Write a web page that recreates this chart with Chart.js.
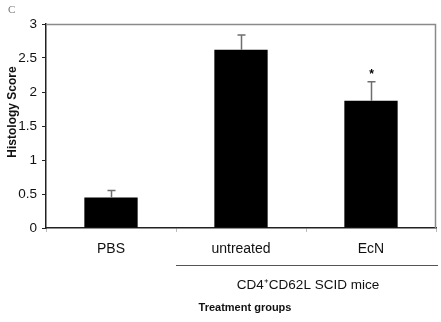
<!DOCTYPE html>
<html>
<head>
<meta charset="utf-8">
<script src="https://cdn.jsdelivr.net/npm/chart.js@4"></script>
<style>
  html, body { margin: 0; padding: 0; background: #fff; }
  #wrap { width: 441px; height: 322px; position: relative; }
</style>
</head>
<body>
<div id="wrap"><canvas id="barChart" width="441" height="322"></canvas></div>
<script>
var groups = ['PBS', 'untreated', 'EcN'];
var scores = [0.45, 2.62, 1.87];
var errors = [0.10, 0.22, 0.28];
var significant = [false, false, true];
var yTicks = [0, 0.5, 1, 1.5, 2, 2.5, 3];

// error bars, asterisk, frame and the group labels under the axis
var extras = {
    id: 'extras',
    beforeDatasetsDraw: function (chart) {
        var ctx = chart.ctx;
        var a = chart.chartArea;
        ctx.save();
        ctx.strokeStyle = '#8a8a8a';
        ctx.lineWidth = 1.5;
        ctx.beginPath();
        ctx.moveTo(a.left, a.top + 0.5);
        ctx.lineTo(a.right - 0.5, a.top + 0.5);
        ctx.lineTo(a.right - 0.5, a.bottom);
        ctx.stroke();
        ctx.restore();
    },
    afterDatasetsDraw: function (chart) {
        var ctx = chart.ctx;
        var x = chart.scales.x, y = chart.scales.y;
        ctx.save();
        ctx.strokeStyle = '#6e6e6e';
        ctx.lineWidth = 1.5;
        for (var i = 0; i < groups.length; i++) {
            var cx = Math.round(x.getPixelForValue(i)) + 0.5;
            var top = y.getPixelForValue(scores[i] + errors[i]);
            var base = y.getPixelForValue(scores[i]);
            ctx.beginPath();
            ctx.moveTo(cx, base);
            ctx.lineTo(cx, top);
            ctx.moveTo(cx - 4, top);
            ctx.lineTo(cx + 4, top);
            ctx.stroke();
            if (significant[i]) {
                ctx.fillStyle = '#000';
                ctx.font = 'bold 12px "Liberation Sans", Arial, sans-serif';
                ctx.textAlign = 'center';
                ctx.textBaseline = 'middle';
                ctx.fillText('*', cx, top - 7);
            }
        }
        ctx.restore();
    },
    afterDraw: function (chart) {
        var ctx = chart.ctx;
        var x = chart.scales.x;
        var a = chart.chartArea;
        ctx.save();
        // letter
        ctx.fillStyle = '#777';
        ctx.font = '11px "Liberation Serif", "Times New Roman", serif';
        ctx.textBaseline = 'middle';
        ctx.fillText('C', 8, 10);
        // y title, sits a bit above the middle of the axis in the original
        ctx.save();
        ctx.translate(13, 112);
        ctx.rotate(-Math.PI / 2);
        ctx.fillStyle = '#111';
        ctx.textAlign = 'center';
        ctx.font = 'bold 12px "Liberation Sans", Arial, sans-serif';
        ctx.fillText('Histology Score', 0, 0);
        ctx.restore();
        // bracket line under untreated + EcN
        var lx = (x.getPixelForValue(0) + x.getPixelForValue(1)) / 2;
        ctx.strokeStyle = '#555';
        ctx.lineWidth = 1;
        ctx.beginPath();
        ctx.moveTo(lx, 265.5);
        ctx.lineTo(a.right + 2, 265.5);
        ctx.stroke();
        ctx.fillStyle = '#111';
        ctx.textAlign = 'center';
        ctx.font = '13.5px "Liberation Sans", Arial, sans-serif';
        ctx.fillText('CD4\u207ACD62L SCID mice', (x.getPixelForValue(1) + x.getPixelForValue(2)) / 2 + 2, 285);
        ctx.font = 'bold 11px "Liberation Sans", Arial, sans-serif';
        ctx.fillText('Treatment groups', 245, 308);
        ctx.restore();
    }
};

new Chart(document.getElementById('barChart'), {
    type: 'bar',
    data: {
        labels: groups,
        datasets: [{
            data: scores,
            backgroundColor: '#000',
            borderWidth: 0,
            barPercentage: 0.41,
            categoryPercentage: 1.0
        }]
    },
    options: {
        responsive: false,
        animation: false,
        layout: { padding: { left: 0, top: 24, right: 5, bottom: 0 } },
        plugins: {
            legend: { display: false },
            tooltip: { enabled: false }
        },
        scales: {
            x: {
                grid: {
                    offset: true,
                    drawOnChartArea: false,
                    drawTicks: true,
                    tickLength: 4,
                    color: '#bbb'
                },
                border: { color: '#222', width: 1.5 },
                ticks: {
                    color: '#111',
                    padding: 9,
                    font: { family: '"Liberation Sans", Arial, sans-serif', size: 14 }
                },
                afterFit: function (scale) { scale.height = 94; }
            },
            y: {
                min: 0,
                max: 3,
                afterBuildTicks: function (scale) {
                    scale.ticks = yTicks.map(function (v) { return { value: v }; });
                },
                grid: {
                    drawOnChartArea: false,
                    drawTicks: true,
                    tickLength: 4,
                    color: '#222'
                },
                border: { color: '#222', width: 1.5 },
                ticks: {
                    color: '#111',
                    padding: 5,
                    callback: function (v) { return String(v); },
                    font: { family: '"Liberation Sans", Arial, sans-serif', size: 13.5 }
                },
                afterFit: function (scale) { scale.width = 46; }
            }
        }
    },
    plugins: [extras]
});
</script>
</body>
</html>
